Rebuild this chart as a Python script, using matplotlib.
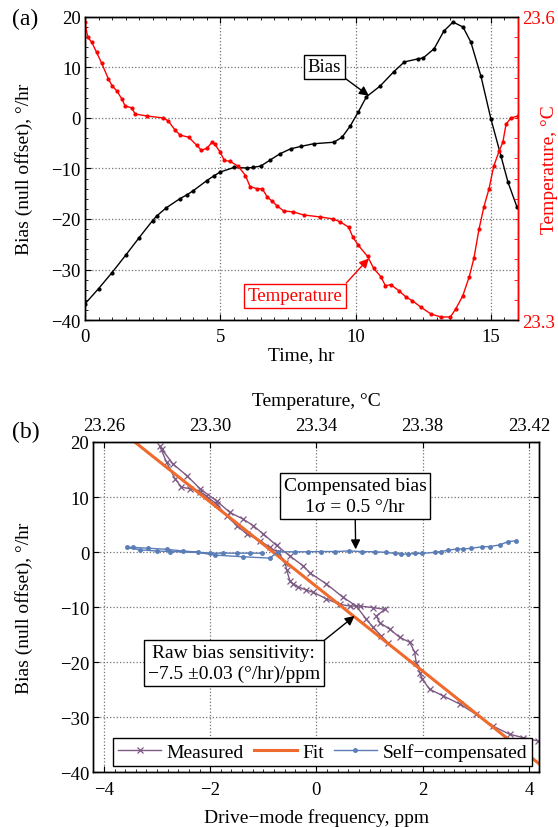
import matplotlib
matplotlib.use('Agg')
import matplotlib.pyplot as plt
from matplotlib.ticker import MultipleLocator, FormatStrFormatter

plt.rcParams['font.family'] = ['Liberation Serif', 'DejaVu Serif']
plt.rcParams['font.size'] = 14
plt.rcParams['axes.linewidth'] = 1.0

# (a) bias and temperature against time
bias_t = [0, 0.5, 1.0, 1.5, 2.0, 2.5, 2.65, 3.0, 3.5, 3.77, 4.0, 4.5, 4.75, 5.0, 5.5,
          6.0, 6.2, 6.5, 6.85, 7.2, 7.6, 8.0, 8.45, 9.2, 9.5, 9.8, 10.1, 10.4, 10.9,
          11.4, 11.8, 12.3, 12.5, 12.9, 13.26, 13.6, 13.97, 14.26, 14.63, 15.0,
          15.37, 15.63, 15.96]
bias_val = [-36.8, -33.8, -30.6, -27.2, -23.7, -20.3, -19.4, -17.8, -16.0, -15.2, -14.4,
            -12.4, -11.5, -10.7, -9.8, -9.9, -9.8, -9.5, -8.3, -7.1, -6.1, -5.6, -5.1,
            -4.8, -3.8, -1.6, 1.2, 4.2, 6.3, 9.1, 11.1, 11.7, 11.9, 13.7, 17.2, 19.0,
            18.0, 15.0, 8.3, -0.2, -7.5, -12.7, -17.6]

temp_t = [0, 0.1, 0.25, 0.43, 0.62, 0.86, 1.0, 1.17, 1.36, 1.48, 1.73, 1.85, 2.28, 2.9,
          3.08, 3.33, 3.52, 3.83, 4.13, 4.3, 4.5, 4.7, 4.8, 5.0, 5.15, 5.37, 5.67, 5.93,
          6.1, 6.36, 6.55, 6.73, 6.9, 7.1, 7.34, 7.7, 8.08, 8.7, 9.18, 9.44, 9.74, 9.9,
          10.1, 10.44, 10.67, 10.93, 11.1, 11.3, 11.6, 11.85, 12.1, 12.4, 12.78, 13.15,
          13.5, 13.7, 13.96, 14.2, 14.37, 14.56, 14.74, 14.93, 15.1, 15.3, 15.44, 15.56,
          15.74, 16.0]
temp_c = [23.595, 23.580, 23.575, 23.565, 23.554, 23.539, 23.532, 23.527, 23.519, 23.512,
          23.510, 23.504, 23.502, 23.500, 23.497, 23.488, 23.483, 23.481, 23.473, 23.468,
          23.470, 23.476, 23.474, 23.466, 23.458, 23.457, 23.452, 23.443, 23.432, 23.430,
          23.430, 23.422, 23.418, 23.413, 23.408, 23.407, 23.404, 23.402, 23.400, 23.397,
          23.392, 23.382, 23.374, 23.363, 23.351, 23.343, 23.334, 23.335, 23.329, 23.323,
          23.319, 23.313, 23.306, 23.303, 23.303, 23.311, 23.324, 23.343, 23.361, 23.390,
          23.412, 23.430, 23.452, 23.467, 23.476, 23.494, 23.500, 23.502]

# (b) bias against drive-mode frequency
meas_ppm = [4.17, 3.89, 3.64, 3.32, 3.01, 2.70, 2.38, 2.13, 1.99, 1.95, 1.88, 1.85, 1.76,
            1.57, 1.38, 1.19, 1.13, 1.29, 1.07, 0.82, 0.63, 0.44, 0.19, -0.06, -0.19,
            -0.35, -0.44, -0.50, -0.56, -0.59, -0.72, -0.88, -1.06, -1.31, -1.50, -1.69,
            -1.88, -2.07, -2.19, -2.38, -2.54, -2.66, -2.82, -2.95,
            -2.91, -2.70, -2.44, -2.19, -1.88, -1.63, -1.38, -1.19, -1.00, -0.75, -0.50,
            -0.25, -0.12, 0.19, 0.50, 0.75, 0.94, 1.07, 1.22, 1.35]
meas_bias = [-34.3, -33.7, -33.1, -31.6, -29.5, -27.6, -26.1, -24.9, -23.0, -22.0, -20.1,
             -18.2, -16.4, -15.5, -14.0, -12.8, -11.6, -10.4, -10.1, -9.8, -9.8, -9.5,
             -8.5, -7.3, -6.9, -6.3, -5.8, -5.2, -3.2, -1.9, -0.05, 0.85, 2.1, 3.3, 4.8,
             6.6, 8.7, 10.2, 10.9, 11.5, 11.8, 13.3, 16.3, 19.3,
             18.7, 16.0, 13.9, 11.5, 9.3, 7.2, 6.0, 4.8, 3.3, 1.2, -0.7, -2.5, -3.8, -5.8,
             -8.2, -9.8, -12.2, -13.7, -15.2, -16.5]

comp_ppm = [-1.03, -1.25, -1.50, -1.76, -2.00, -2.51, -2.82, -3.17, -3.45, -3.57,
            -3.32, -3.01, -2.76, -2.23, -1.91, -1.38, -0.88,
            -0.72, -0.41, -0.16, 0.09, 0.35, 0.61, 0.85, 1.10, 1.32, 1.48, 1.60, 1.73,
            1.85, 1.98, 2.23, 2.35, 2.48, 2.64, 2.76, 2.92, 3.11, 3.26, 3.45, 3.61, 3.76]
comp_bias = [-0.2, -0.2, -0.2, -0.2, -0.2, 0.2, 0.5, 0.7, 0.85, 0.85,
             0.4, 0.2, 0.1, -0.05, -0.55, -0.85, -1.1,
             0.05, 0.05, 0.05, 0.1, 0.1, 0.2, 0.1, 0.05, -0.05, -0.25, -0.35, -0.35,
             -0.25, -0.25, -0.05, 0.1, 0.35, 0.55, 0.55, 0.7, 0.95, 1.0, 1.3, 1.9, 2.05]

fit_ppm = [-3.42, 4.2]
fit_bias = [20.0, -38.5]

purple = '#7d5a84'
orange = '#ef6a2c'
blue = '#5a7db8'

fig = plt.figure(figsize=(5.58, 8.28), dpi=100)

# ---- panel (a)
ax_a = fig.add_axes([0.1523, 0.6123, 0.776, 0.366])
ax_t = ax_a.twinx()

ax_a.plot(bias_t, bias_val, color='k', lw=1, marker='.', ms=4)
ax_t.plot(temp_t, temp_c, color='red', lw=1, marker='.', ms=4)

ax_a.set_xlim(0, 16)
ax_a.set_ylim(-40, 20)
ax_t.set_ylim(23.3, 23.6)
ax_a.set_xticks([0, 5, 10, 15])
ax_a.set_yticks(range(-40, 21, 10))
ax_a.xaxis.set_minor_locator(MultipleLocator(0.5))
ax_a.yaxis.set_minor_locator(MultipleLocator(2))
ax_t.set_yticks([23.3, 23.6])
ax_t.yaxis.set_minor_locator(MultipleLocator(0.02))
ax_t.yaxis.set_major_formatter(FormatStrFormatter('%.1f'))
ax_a.grid(True, ls=':', color='0.45', lw=0.9)

ax_a.tick_params(which='both', direction='in', top=True, right=False, labelsize=13.5)
ax_a.tick_params(axis='x', pad=6)
ax_a.tick_params(axis='y', pad=3)
ax_a.tick_params(which='major', length=4)
ax_a.tick_params(which='minor', length=2.5)
ax_t.tick_params(which='both', direction='in', colors='red', labelsize=13.5, pad=3)
ax_t.tick_params(which='major', length=4)
ax_t.tick_params(which='minor', length=3)
ax_t.spines['right'].set_color('red')

ax_a.set_xlabel('Time, hr', fontsize=14)
ax_a.xaxis.set_label_coords(0.5, -0.086)
ax_a.set_ylabel('Bias (null offset), °/hr', fontsize=14)
ax_a.yaxis.set_label_coords(-0.12, 0.5)
ax_t.set_ylabel('Temperature, °C', fontsize=14, color='red')
ax_t.yaxis.set_label_coords(1.052, 0.5)

ax_a.annotate('Bias', xy=(10.49, 4.4), xytext=(8.85, 10.1), fontsize=13.5,
              ha='center', va='center',
              bbox=dict(boxstyle='square,pad=0.2', fc='white', ec='k', lw=1),
              arrowprops=dict(arrowstyle='-|>', color='k', lw=1, mutation_scale=14,
                              shrinkA=0, shrinkB=0, relpos=(1, 0)))
ax_a.annotate('Temperature', xy=(10.49, -27.8), xytext=(7.76, -35.2), fontsize=13.5,
              color='red', ha='center', va='center',
              bbox=dict(boxstyle='square,pad=0.2', fc='white', ec='red', lw=1),
              arrowprops=dict(arrowstyle='-|>', color='red', lw=1, mutation_scale=14,
                              shrinkA=0, shrinkB=0, relpos=(1, 1)))

fig.text(0.022, 0.976, '(a)', fontsize=17, va='center', ha='left')

# ---- panel (b)
ax_b = fig.add_axes([0.1672, 0.0661, 0.7996, 0.3989])
ax_b.plot(meas_ppm, meas_bias, color=purple, lw=1, marker='x', ms=4, mew=0.9,
          label='Measured')
ax_b.plot(fit_ppm, fit_bias, color=orange, lw=2.2, label='Fit')
ax_b.plot(comp_ppm, comp_bias, color=blue, lw=1, marker='.', ms=5,
          label='Self\u2212compensated')

ax_b.set_xlim(-4.2, 4.2)
ax_b.set_ylim(-40, 20)
ax_b.set_xticks([-4, -2, 0, 2, 4])
ax_b.set_yticks(range(-40, 21, 10))
ax_b.xaxis.set_minor_locator(MultipleLocator(0.2))
ax_b.grid(True, ls=':', color='0.45', lw=0.9)
ax_b.tick_params(which='both', direction='in', right=True, labelsize=13.5)
ax_b.tick_params(axis='x', pad=6)
ax_b.tick_params(axis='y', pad=3)
ax_b.tick_params(which='major', length=4)
ax_b.tick_params(which='minor', length=2)

ax_top = ax_b.twiny()
ax_top.set_xlim(23.256, 23.424)
ax_top.set_xticks([23.26, 23.30, 23.34, 23.38, 23.42])
ax_top.xaxis.set_major_formatter(FormatStrFormatter('%.2f'))
ax_top.tick_params(direction='in', length=4, labelsize=13.5, pad=6)
ax_top.set_xlabel('Temperature, °C', fontsize=14)
ax_top.xaxis.set_label_coords(0.5, 1.112)

ax_b.set_xlabel('Drive\u2212mode frequency, ppm', fontsize=14)
ax_b.xaxis.set_label_coords(0.5, -0.108)
ax_b.set_ylabel('Bias (null offset), °/hr', fontsize=14)
ax_b.yaxis.set_label_coords(-0.135, 0.5)

ax_b.annotate('Compensated bias\n1\u03c3 = 0.5 °/hr', xy=(0.74, 0.5), xytext=(0.73, 10.2),
              fontsize=14, ha='center', va='center', linespacing=1.3,
              bbox=dict(boxstyle='square,pad=0.2', fc='white', ec='k', lw=1),
              arrowprops=dict(arrowstyle='-|>', color='k', lw=1, mutation_scale=14,
                              shrinkA=0, shrinkB=0, relpos=(0.5, 0)))
ax_b.annotate('Raw bias sensitivity:\n\u22127.5 \u00b10.03 (°/hr)/ppm', xy=(0.72, -11.6),
              xytext=(-1.556, -20.15), fontsize=14, ha='center', va='center',
              linespacing=1.3,
              bbox=dict(boxstyle='square,pad=0.2', fc='white', ec='k', lw=1),
              arrowprops=dict(arrowstyle='-|>', color='k', lw=1, mutation_scale=14,
                              shrinkA=0, shrinkB=0, relpos=(1, 1)))

leg = ax_b.legend(ncol=3, loc='lower left', bbox_to_anchor=(0.045, 0.02),
                  fancybox=False, edgecolor='k', framealpha=1, fontsize=14,
                  handlelength=2.2, columnspacing=0.5, handletextpad=0.3,
                  borderpad=0.25, borderaxespad=0)
leg.get_frame().set_linewidth(1)

fig.text(0.022, 0.478, '(b)', fontsize=17, va='center', ha='left')

fig.savefig('out.png', dpi=100)
